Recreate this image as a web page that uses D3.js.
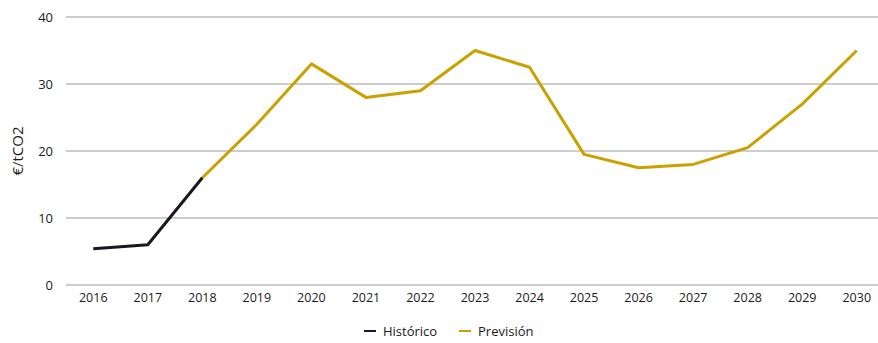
<!DOCTYPE html>
<html>
<head>
<meta charset="utf-8">
<script src="https://cdn.jsdelivr.net/npm/d3@7"></script>
<style>
  html, body { margin: 0; padding: 0; background: #fff; }
  svg { display: block; font-family: "Open Sans", "Noto Sans", sans-serif; }
</style>
</head>
<body>
<svg id="chart" width="878" height="343"></svg>
<script>
// Precio del CO2: histórico y previsión (€/tCO2)
const years = ["2016","2017","2018","2019","2020","2021","2022","2023","2024","2025","2026","2027","2028","2029","2030"];
const historicoYears = ["2016","2017","2018"];
const historico = [5.4, 6.0, 16.0];
const previsionYears = ["2018","2019","2020","2021","2022","2023","2024","2025","2026","2027","2028","2029","2030"];
const prevision = [16.0, 24.0, 33.0, 28.0, 29.0, 35.0, 32.5, 19.5, 17.5, 18.0, 20.5, 27.0, 35.0];
const yTicks = [0, 10, 20, 30, 40];
const seriesNames = ["Histórico", "Previsión"];
const colors = { "Histórico": "#1c1620", "Previsión": "#c9a100" };

const svg = d3.select("#chart");
const margin = { left: 66, right: -6, top: 17, bottom: 58 };
const width = 878, height = 343;

const x = d3.scaleBand().domain(years).range([margin.left, width - margin.right]);
const y = d3.scaleLinear().domain([0, 40]).range([height - margin.bottom, margin.top]);

// Horizontal gridlines
svg.append("g")
  .selectAll("line")
  .data(yTicks)
  .join("line")
  .attr("x1", margin.left)
  .attr("x2", width)
  .attr("y1", d => y(d))
  .attr("y2", d => y(d))
  .attr("stroke", "#bdbdbd")
  .attr("stroke-width", 1.4);

// Y axis labels
const yAxis = d3.axisLeft(y).tickValues(yTicks).tickSize(0).tickPadding(0);
svg.append("g")
  .attr("transform", `translate(${margin.left - 13},0)`)
  .call(yAxis)
  .call(g => g.select(".domain").remove())
  .call(g => g.selectAll("text")
    .attr("font-size", 13)
    .attr("fill", "#1a1a1a")
    .attr("font-family", "'Open Sans', sans-serif"));

// X axis labels
const xAxis = d3.axisBottom(x).tickSize(0).tickPadding(0);
svg.append("g")
  .attr("transform", `translate(0,${y(0) + 8})`)
  .call(xAxis)
  .call(g => g.select(".domain").remove())
  .call(g => g.selectAll("text")
    .attr("font-size", 12.5)
    .attr("dy", "0.71em")
    .attr("fill", "#1a1a1a")
    .attr("font-family", "'Open Sans', sans-serif"));

// Y axis title
svg.append("text")
  .attr("transform", `translate(23,${(y(0) + y(40)) / 2}) rotate(-90)`)
  .attr("text-anchor", "middle")
  .attr("font-size", 15)
  .attr("fill", "#1a1a1a")
  .text("€/tCO2");

const line = d3.line()
  .x(d => x(d[0]) + x.bandwidth() / 2)
  .y(d => y(d[1]));

// Forecast line
svg.append("path")
  .datum(d3.zip(previsionYears, prevision))
  .attr("fill", "none")
  .attr("stroke", colors["Previsión"])
  .attr("stroke-width", 3)
  .attr("stroke-linejoin", "round")
  .attr("d", line);

// Historical line
svg.append("path")
  .datum(d3.zip(historicoYears, historico))
  .attr("fill", "none")
  .attr("stroke", colors["Histórico"])
  .attr("stroke-width", 3)
  .attr("stroke-linejoin", "round")
  .attr("d", line);

// Legend
const legendItems = [
  { name: seriesNames[0], x: 364 },
  { name: seriesNames[1], x: 459 }
];
const legend = svg.append("g").attr("transform", "translate(0,331)");
legend.selectAll("line")
  .data(legendItems)
  .join("line")
  .attr("x1", d => d.x)
  .attr("x2", d => d.x + 12)
  .attr("y1", 0)
  .attr("y2", 0)
  .attr("stroke", d => colors[d.name])
  .attr("stroke-width", 2);
legend.selectAll("text")
  .data(legendItems)
  .join("text")
  .attr("x", d => d.x + 19)
  .attr("y", 0)
  .attr("dy", "0.35em")
  .attr("font-size", 13)
  .attr("fill", "#1a1a1a")
  .text(d => d.name);
</script>
</body>
</html>
